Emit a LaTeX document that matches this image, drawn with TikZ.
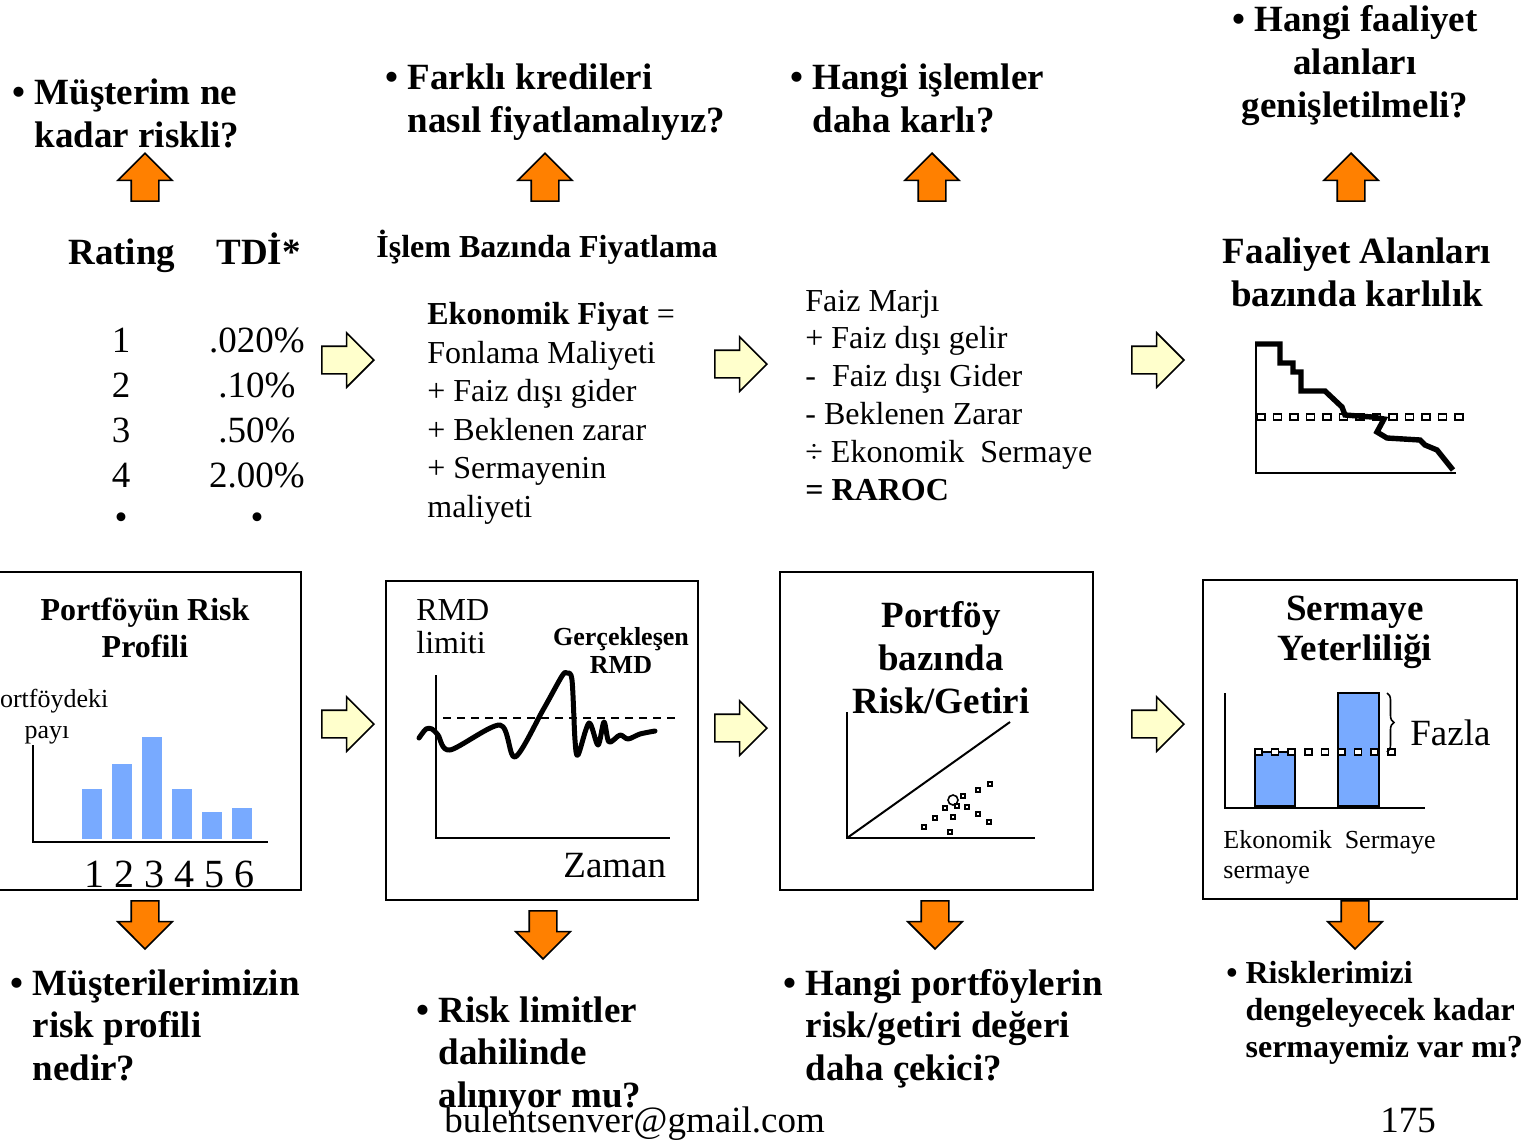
\documentclass[tikz,border=0pt]{standalone}
\usepackage{fontspec}
\setmainfont{Liberation Serif}
\usetikzlibrary{arrows.meta,positioning,calc,shapes.arrows,decorations.pathreplacing}

\definecolor{turuncu}{RGB}{255,128,0}
\definecolor{aciksari}{RGB}{255,255,204}
\definecolor{cubukmavi}{RGB}{120,170,255}

\newcommand{\yazibuyuk}{\fontsize{18.5}{21.25}\selectfont}
\newcommand{\yaziorta}{\fontsize{16}{19.25}\selectfont}
\newcommand{\yazikucuk}{\fontsize{13}{15.5}\selectfont}

\tikzset{
  soru/.style={font=\yazibuyuk\bfseries,align=left,inner sep=0pt,anchor=base west},
  metin/.style={font=\yaziorta,align=left,inner sep=0pt,anchor=base west},
  blokok/.style={single arrow,draw=black,line width=0.8pt,minimum height=24pt,
    inner xsep=0pt,inner ysep=6.5pt,single arrow head extend=6.75pt,anchor=tip},
  yukariok/.style={blokok,fill=turuncu,rotate=90},
  asagiok/.style={blokok,fill=turuncu,rotate=-90},
  sagok/.style={blokok,fill=aciksari,minimum height=26pt},
  cerceve/.style={line width=1.3pt},
  eksen/.style={line width=1pt},
  egri/.style={line width=2.5pt,line join=round,line cap=round},
  kare/.style={draw=black,fill=white,line width=0.8pt},
}

\begin{document}
\begin{tikzpicture}[x=0.5pt,y=-0.5pt]
  \useasboundingbox (0,0) rectangle (1538,1142);

  % ust sira: sorular ve turuncu oklar (cok satirli dugumlerde base = son satir)
  \node[soru] (soru1) at (12,147) {•~Müşterim ne\\\hphantom{•~}kadar riskli?};
  \node[soru] (soru2) at (385,132) {•~Farklı kredileri\\\hphantom{•~}nasıl fiyatlamalıyız?};
  \node[soru] (soru3) at (790,132) {•~Hangi işlemler\\\hphantom{•~}daha karlı?};
  \node[soru,font=\fontsize{18.5}{21.5}\selectfont\bfseries,align=center,anchor=base] (soru4) at (1355,117)
    {•~Hangi faaliyet\\alanları\\genişletilmeli?};
  \node[yukariok] (yok1) at (145,152) {};
  \node[yukariok] (yok2) at (545,152) {};
  \node[yukariok] (yok3) at (932,152) {};
  \node[yukariok] (yok4) at (1351,152) {};

  % rating tablosu
  \node[soru] (rating) at (68,264) {Rating};
  \node[soru] (tdi) at (216,264) {TDİ*};
  \foreach \no/\oran [count=\i from 0] in {1/.020\%,2/.10\%,3/.50\%,4/2.00\%}{
    \node[font=\yazibuyuk,inner sep=0pt,anchor=base] (no\no) at (121,352+45*\i) {\no};
    \node[font=\yazibuyuk,inner sep=0pt,anchor=base] (oran\no) at (257,352+45*\i) {\oran};
  }
  \node[font=\yazibuyuk,inner sep=0pt,anchor=base] (nonokta) at (121,529) {•};
  \node[font=\yazibuyuk,inner sep=0pt,anchor=base] (orannokta) at (257,529) {•};

  % islem bazinda fiyatlama
  \node[metin,font=\yaziorta\bfseries] (islem) at (376,257) {İşlem Bazında Fiyatlama};
  \node[metin] (fiyat) at (427,517) {\textbf{Ekonomik Fiyat} =\\Fonlama Maliyeti\\+ Faiz dışı gider\\+ Beklenen zarar\\+ Sermayenin\\maliyeti};
  \node[metin,font=\fontsize{16}{18.9}\selectfont] (raroc) at (805,500) {Faiz Marjı\\+ Faiz dışı gelir\\-~~Faiz dışı Gider\\- Beklenen Zarar\\÷ Ekonomik~~Sermaye\\\textbf{= RAROC}};

  % faaliyet alanlari grafigi
  \node[soru,font=\fontsize{18.5}{21.5}\selectfont\bfseries,align=center,anchor=base] (faaliyet) at (1357,306)
    {Faaliyet Alanları\\bazında karlılık};
  \draw[eksen] (1256,343) |- (1456,473);
  \foreach \i in {0,...,12}
    \draw[kare] (1257+16.5*\i,414) rectangle ++(8,6);
  \draw[egri,line width=2.7pt,line cap=butt,line join=miter] (1255,344) -- (1280,344) -- (1280,363) -- (1293,363) -- (1293,372)
    -- (1301,372) -- (1301,391) -- (1325,391) -- (1342,407) -- (1345,415) -- (1372,417) -- (1384,419)
    -- (1377,432) -- (1387,438) -- (1420,440) -- (1425,445) -- (1437,450) -- (1453,470);

  % sari oklar
  \node[sagok] (sok1) at (375,360) {};
  \node[sagok] (sok2) at (768,364) {};
  \node[sagok] (sok3) at (1185,360) {};
  \node[sagok] (sok4) at (375,724) {};
  \node[sagok] (sok5) at (768,728) {};
  \node[sagok] (sok6) at (1185,724) {};

  % kutu 1: portfoyun risk profili
  \draw[cerceve] (-10,572) rectangle (301,890);
  \node[font=\fontsize{16}{18.5}\selectfont\bfseries,align=center,anchor=base,inner sep=0pt] (baslik1) at (145,657) {Portföyün Risk\\Profili};
  \node[font=\yazikucuk,align=center,anchor=base,inner sep=0pt] (pay) at (47,738) {Portföydeki\\payı};
  \draw[eksen] (33,745) |- (268,842);
  \foreach \x/\h in {82/789,112/764,142/737,172/789,202/812,232/808}
    \fill[cubukmavi] (\x,\h) rectangle (\x+20,839);
  \node[font=\fontsize{20}{24}\selectfont,anchor=base west,inner sep=0pt] (sinif) at (84,887) {1 2 3 4 5 6};

  % kutu 2: RMD limiti
  \draw[cerceve] (386,581) rectangle (698,900);
  \node[metin,font=\fontsize{16}{16.5}\selectfont] (rmdlimit) at (416,653) {RMD\\limiti};
  \node[font=\fontsize{13}{14}\selectfont\bfseries,align=center,anchor=base,inner sep=0pt] (gercek) at (621,673) {Gerçekleşen\\RMD};
  \draw[eksen] (436,675) |- (670,838);
  \draw[dashed,dash pattern=on 4pt off 3pt,line width=0.8pt] (443,718) -- (678,718);
  \draw[egri] plot[smooth,tension=0.5] coordinates {(419,738) (426,729) (432,729) (438,735) (450,750)
    (500,725) (515,757) (543,710) (562,676) (567,673) (572,680) (575,740) (578,755) (589,723)
    (598,745) (604,722) (609,742) (620,735) (628,739) (640,734) (655,731)};
  \node[font=\yazibuyuk,anchor=base west,inner sep=0pt] (zaman) at (563,877) {Zaman};

  % kutu 3: portfoy bazinda risk/getiri
  \draw[cerceve] (780,572) rectangle (1093,890);
  \node[font=\fontsize{18.5}{21.5}\selectfont\bfseries,align=center,anchor=base,inner sep=0pt] (baslik3) at (941,713)
    {Portföy\\bazında\\Risk/Getiri};
  \draw[eksen] (847,712) |- (1035,838);
  \draw[eksen] (847,838) -- (1010,722);
  \foreach \x/\y in {924/827,935/818,945/808,953/817,950/832,963/796,967/807,978/790,990/784,978/814,989/822,957/806}
    \draw[line width=0.7pt] (\x-2,\y-2) rectangle (\x+2,\y+2);
  \draw[line width=0.8pt] (953,800) circle[radius=2.5pt];

  % kutu 4: sermaye yeterliligi
  \draw[cerceve] (1203,580) rectangle (1517,899);
  \node[font=\fontsize{18.5}{20}\selectfont\bfseries,align=center,anchor=base,inner sep=0pt] (baslik4) at (1355,660)
    {Sermaye\\Yeterliliği};
  \draw[eksen] (1225,693) |- (1425,808);
  \draw[cerceve,fill=cubukmavi] (1255,752) rectangle (1295,806);
  \draw[cerceve,fill=cubukmavi] (1338,693) rectangle (1379,806);
  \foreach \i in {0,...,8}
    \draw[kare] (1255+16.6*\i,749) rectangle ++(7,6);
  \draw[line width=0.8pt,decorate,decoration={brace,amplitude=3.5pt}] (1387,693) -- (1387,752);
  \node[font=\yazibuyuk,anchor=base west,inner sep=0pt] (fazla) at (1410,745) {Fazla};
  \node[font=\fontsize{13}{15}\selectfont,align=left,anchor=base west,inner sep=0pt] (ekosermaye) at (1223,878)
    {Ekonomik~~Sermaye\\sermaye};

  % alt sira: turuncu oklar ve sorular
  \node[asagiok] (aok1) at (145,950) {};
  \node[asagiok] (aok2) at (543,960) {};
  \node[asagiok] (aok3) at (935,950) {};
  \node[asagiok] (aok4) at (1355,950) {};
  \node[soru] (alt1) at (10,1080) {•~Müşterilerimizin\\\hphantom{•~}risk profili\\\hphantom{•~}nedir?};
  \node[soru] (alt2) at (416,1107) {•~Risk limitler\\\hphantom{•~}dahilinde\\\hphantom{•~}alınıyor mu?};
  \node[soru] (alt3) at (783,1080) {•~Hangi portföylerin\\\hphantom{•~}risk/getiri değeri\\\hphantom{•~}daha çekici?};
  \node[soru,font=\fontsize{16}{18.5}\selectfont\bfseries] (alt4) at (1226,1057)
    {•~Risklerimizi\\\hphantom{•~}dengeleyecek kadar\\\hphantom{•~}sermayemiz var mı?};

  % alt bilgi
  \node[font=\yazibuyuk,anchor=base west,inner sep=0pt] (eposta) at (444,1132) {bulentsenver@gmail.com};
  \node[font=\yazibuyuk,anchor=base west,inner sep=0pt] (sayfa) at (1380,1132) {175};
\end{tikzpicture}
\end{document}
